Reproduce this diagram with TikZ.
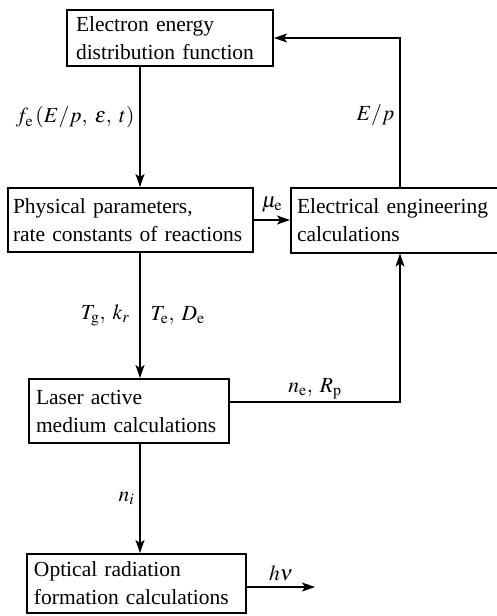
\documentclass[tikz,border=0pt]{standalone}
\usepackage{mathptmx}
\usepackage{fontspec}
\setmainfont{Liberation Serif}
\usepackage{tikz}
\usetikzlibrary{arrows.meta,positioning}
\hyphenpenalty=10000
\exhyphenpenalty=10000

\begin{document}
\begin{tikzpicture}[
  x=1pt, y=-1pt,
  font=\fontsize{21.5}{28}\selectfont,
  box/.style={draw, line width=2pt, align=left, inner xsep=7pt, inner ysep=0pt},
  arrow/.style={-{Stealth[length=13pt, width=9pt, inset=3pt]}, line width=1.3pt},
  lbl/.style={inner sep=2pt}
]
  \useasboundingbox (0,0) rectangle (497,616);
  \coordinate (spine) at (140,0);
  \node[box, text width=188pt, inner xsep=9pt, minimum height=56pt] (eedf) at (170,38)
    {Electron energy\\distribution function};
  \node[box, text width=235pt, inner xsep=5pt, minimum height=64pt] (phys) at (130.5,220)
    {Physical parameters,\\rate constants of reactions};
  \node[box, text width=196pt, inner xsep=6pt, minimum height=65pt] (elec) at (395,220)
    {Electrical engineering\\calculations};
  \node[box, text width=186pt, minimum height=64pt] (laser) at (129,411)
    {Laser active\\medium calculations};
  \node[box, text width=205pt, minimum height=59pt] (optic) at (136.5,583.5)
    {Optical radiation\\formation calculations};
  \coordinate (hvend) at (315,587);
  \draw[arrow] (eedf.south -| spine) -- (phys.north -| spine)
    node[lbl, pos=0.42, left, xshift=-3pt] {$f_{\mathrm{e}}\,(E/p,\; \varepsilon,\; t)$};
  \draw[arrow] (phys) -- (elec) node[lbl, midway, above, yshift=5pt] {$\mu_{\mathrm{e}}$};
  \draw[arrow] ([xshift=5pt]elec.north) |- (eedf.east)
    node[lbl, pos=0.24, left, xshift=-3pt] {$E/p$};
  \draw[arrow] (phys.south -| spine) -- (laser.north -| spine)
    node[lbl, midway, left, xshift=-8pt] {$T_{\mathrm{g}},\; k_r$}
    node[lbl, midway, right, xshift=8pt] {$T_{\mathrm{e}},\; D_{\mathrm{e}}$};
  \draw[arrow] ([yshift=9pt]laser.east) -| ([xshift=5pt]elec.south)
    node[lbl, pos=0.25, above] {$n_{\mathrm{e}},\; R_{\mathrm{p}}$};
  \draw[arrow] (laser.south -| spine) -- (optic.north -| spine)
    node[lbl, midway, left, xshift=-3pt] {$n_i$};
  \draw[arrow] (optic.east |- hvend) -- (hvend)
    node[lbl, midway, above, yshift=3pt] {$h\nu$};
\end{tikzpicture}
\end{document}
